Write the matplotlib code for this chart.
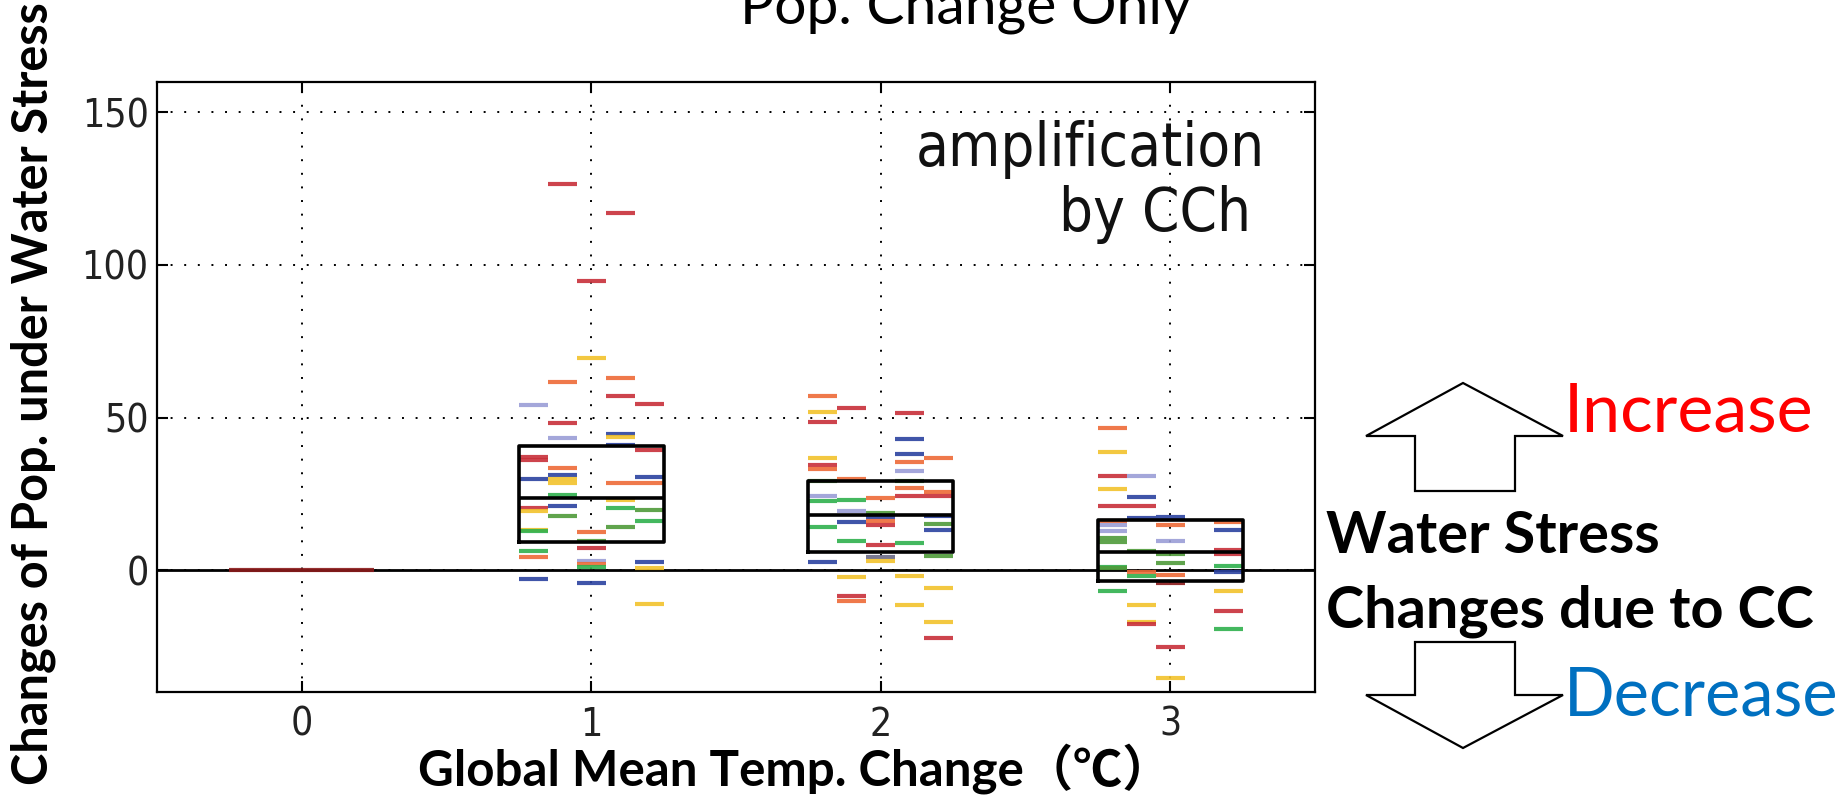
import matplotlib
matplotlib.use("Agg")
import matplotlib.pyplot as plt
import matplotlib.font_manager as fm
from matplotlib.patches import Polygon
import numpy as np

# ---------------- data ----------------
temps = [0, 1, 2, 3]
tick_vals_y = [0, 50, 100, 150]

# each segment: column (1..5 within a temperature group), value, colour class
t0_col = [1, 2, 3, 4, 5]
t0_val = [0.0, 0.0, 0.0, 0.0, 0.0]
t0_cls = ["DR", "DR", "DR", "DR", "DR"]

t1_col = [1, 1, 1, 1, 1, 1, 1, 1, 1, 1, 1,
          2, 2, 2, 2, 2, 2, 2, 2, 2, 2, 2,
          3, 3, 3, 3, 3, 3, 3, 3, 3,
          4, 4, 4, 4, 4, 4, 4, 4, 4, 4,
          5, 5, 5, 5, 5, 5, 5, 5, 5]
t1_val = [54.2, 37.2, 36.0, 29.9, 20.4, 19.5, 13.1, 12.7, 6.3, 4.4, -3.0,
          126.4, 61.8, 48.3, 43.3, 33.5, 31.0, 29.9, 28.6, 24.6, 20.9, 17.6,
          94.7, 69.6, 12.4, 9.4, 7.1, 3.1, 2.0, 0.9, -4.3,
          117.2, 63.0, 57.0, 44.7, 43.6, 41.0, 28.5, 23.0, 20.4, 14.0,
          54.3, 39.2, 30.6, 28.5, 19.7, 16.2, 2.7, 0.7, -11.2]
t1_cls = ["L", "R", "R", "B", "R", "Y", "Y", "G", "G", "O", "B",
          "R", "O", "R", "L", "O", "B", "Y", "Y", "G", "B", "DG",
          "R", "Y", "O", "DG", "R", "L", "O", "G", "B",
          "R", "O", "R", "B", "Y", "B", "O", "Y", "G", "DG",
          "R", "R", "B", "O", "DG", "G", "B", "Y", "Y"]

t2_col = [1, 1, 1, 1, 1, 1, 1, 1, 1, 1, 1,
          2, 2, 2, 2, 2, 2, 2, 2, 2,
          3, 3, 3, 3, 3, 3, 3, 3,
          4, 4, 4, 4, 4, 4, 4, 4, 4, 4, 4,
          5, 5, 5, 5, 5, 5, 5, 5, 5, 5]
t2_val = [57.2, 51.8, 48.5, 36.8, 34.5, 33.2, 29.3, 24.2, 22.6, 14.0, 2.7,
          53.2, 29.9, 23.1, 19.3, 15.7, 9.6, -2.2, -8.4, -10.1,
          23.6, 18.7, 17.5, 16.2, 14.9, 8.3, 4.2, 3.1,
          51.6, 43.0, 38.0, 35.4, 32.6, 29.1, 26.8, 24.4, 8.9, -1.9, -11.4,
          36.7, 25.5, 24.4, 17.6, 15.1, 13.1, 4.7, -6.0, -17.2, -22.4]
t2_cls = ["O", "Y", "R", "Y", "R", "O", "DG", "L", "G", "G", "B",
          "R", "O", "G", "L", "B", "G", "Y", "R", "O",
          "O", "DG", "B", "O", "R", "R", "S", "Y",
          "R", "B", "B", "O", "L", "DG", "O", "R", "G", "Y", "Y",
          "O", "O", "R", "B", "DG", "B", "DG", "Y", "Y", "R"]

t3_col = [1, 1, 1, 1, 1, 1, 1, 1, 1, 1, 1, 1, 1,
          2, 2, 2, 2, 2, 2, 2, 2, 2, 2,
          3, 3, 3, 3, 3, 3, 3, 3, 3,
          5, 5, 5, 5, 5, 5, 5, 5, 5]
t3_val = [46.5, 38.6, 30.8, 26.6, 21.1, 16.2, 14.6, 12.9, 10.4, 9.1, 1.1, 0.6, -7.0,
          30.8, 23.9, 21.1, 17.0, 6.3, -0.5, -2.1, -11.5, -17.2, -17.7,
          17.5, 14.9, 9.6, 5.3, 2.2, -1.6, -4.3, -25.4, -35.5,
          15.7, 13.2, 6.7, 5.3, 1.2, -0.5, -7.0, -13.6, -19.4]
t3_cls = ["O", "Y", "R", "Y", "R", "O", "L", "L", "DG", "DG", "G", "DG", "G",
          "L", "B", "R", "B", "DG", "O", "G", "Y", "Y", "R",
          "B", "O", "L", "DG", "DG", "O", "DR", "R", "Y",
          "O", "B", "R", "R", "G", "B", "Y", "R", "G"]

# box statistics (lower quartile, median, upper quartile) for 1, 2, 3 degC
box_temps = [1, 2, 3]
box_q1 = [9.1, 5.8, -3.7]
box_med = [23.6, 18.1, 5.8]
box_q3 = [40.6, 29.3, 16.4]

# ---------------- style ----------------
colors = {"R": "#c8303a", "O": "#ee6b37", "Y": "#f2c22c", "G": "#2fb14d",
          "DG": "#4f9a3a", "B": "#2b42a0", "L": "#9a9ed6", "S": "#6a6a86",
          "DR": "#8b1a1a"}

W, H = 1846, 799
fig = plt.figure(figsize=(W / 100, H / 100), dpi=100)

# font for tick labels (old matplotlib look, slightly condensed)
cond = [f.fname for f in fm.fontManager.ttflist
        if f.name == "DejaVu Sans" and "ondensed" in f.fname
        and "Bold" not in f.fname and "Oblique" not in f.fname]
if cond:
    tick_fp = fm.FontProperties(fname=cond[0], size=28)
    amp_fp = fm.FontProperties(fname=cond[0], size=43)
else:
    tick_fp = fm.FontProperties(family="DejaVu Sans", size=26)
    amp_fp = fm.FontProperties(family="DejaVu Sans", size=39)

ax = fig.add_axes([157 / W, 1 - 692 / H, (1315 - 157) / W, (692 - 82) / H])
ax.set_xlim(-0.5, 3.5)
ax.set_ylim(-40, 160)

col_w = 0.1
groups = [(0, t0_col, t0_val, t0_cls), (1, t1_col, t1_val, t1_cls),
          (2, t2_col, t2_val, t2_cls), (3, t3_col, t3_val, t3_cls)]
for t, cols, vals, cls in groups:
    for c, v, k in zip(cols, vals, cls):
        xc = t + (c - 3) * col_w
        ax.hlines(v, xc - col_w / 2, xc + col_w / 2, colors=colors[k],
                  linewidth=3.0, alpha=0.9, zorder=3)

stats = [dict(med=m, q1=a, q3=b, whislo=a, whishi=b, fliers=[])
         for a, m, b in zip(box_q1, box_med, box_q3)]
ax.bxp(stats, positions=box_temps, widths=0.5, showcaps=False, showfliers=False,
       boxprops=dict(color="black", linewidth=2.6),
       medianprops=dict(color="black", linewidth=2.6),
       whiskerprops=dict(linewidth=0), manage_ticks=False, zorder=4)

ax.axhline(0, color="black", linewidth=2.0, zorder=2)
ax.set_xticks(temps)
ax.set_yticks(tick_vals_y)
ax.set_xticklabels([str(t) for t in temps], fontproperties=tick_fp, color="#222222")
ax.set_yticklabels([str(v) for v in tick_vals_y], fontproperties=tick_fp, color="#222222")
ax.grid(True, color="black", linestyle=(0, (1, 6)), linewidth=1.4)
ax.tick_params(direction="in", length=8, width=1.5, top=True, right=True,
               pad=6)
ax.tick_params(axis="x", pad=10)
for s in ax.spines.values():
    s.set_linewidth(1.6)

ax.text(3.326, 132.3, "amplification", fontproperties=amp_fp, ha="right",
        va="baseline", color="#111111", zorder=5)
ax.text(3.28, 111.3, "by CCh", fontproperties=amp_fp, ha="right",
        va="baseline", color="#111111", zorder=5)

# overlay in pixel coordinates for annotations
ov = fig.add_axes([0, 0, 1, 1], zorder=-1)
ov.set_xlim(0, W)
ov.set_ylim(H, 0)
ov.axis("off")
ov.patch.set_alpha(0)

sans = ["Lato", "Noto Sans CJK JP", "DejaVu Sans"]
ov.text(966, 24, "Pop. Change Only", family=sans, fontsize=41, ha="center",
        va="baseline", color="black")
ov.text(795, 786, "Global Mean Temp. Change（℃）", family=sans, fontsize=35.5,
        fontweight="bold", ha="center", va="baseline")
ov.text(33, 394, "Changes of Pop. under Water Stress", family=sans, fontsize=35,
        fontweight="bold", rotation=90, ha="center", va="center")

up = [(1463, 383), (1563, 436), (1515, 436), (1515, 491), (1415, 491),
      (1415, 436), (1366, 436)]
down = [(1415, 642), (1515, 642), (1515, 695), (1563, 695), (1463, 748),
        (1366, 695), (1415, 695)]
for pts in (up, down):
    ov.add_patch(Polygon(pts, closed=True, facecolor="white", edgecolor="black",
                         linewidth=1.6))

ov.text(1564, 432, "Increase", family=sans, fontsize=49, color="#ff0000",
        ha="left", va="baseline")
ov.text(1564, 715, "Decrease", family=sans, fontsize=48, color="#0070c0",
        ha="left", va="baseline")
ov.text(1326, 553, "Water Stress", family=sans, fontsize=41.5, fontweight="bold",
        ha="left", va="baseline")
ov.text(1326, 628, "Changes due to CC", family=sans, fontsize=41.5,
        fontweight="bold", ha="left", va="baseline")

fig.savefig("out.png", dpi=100)
